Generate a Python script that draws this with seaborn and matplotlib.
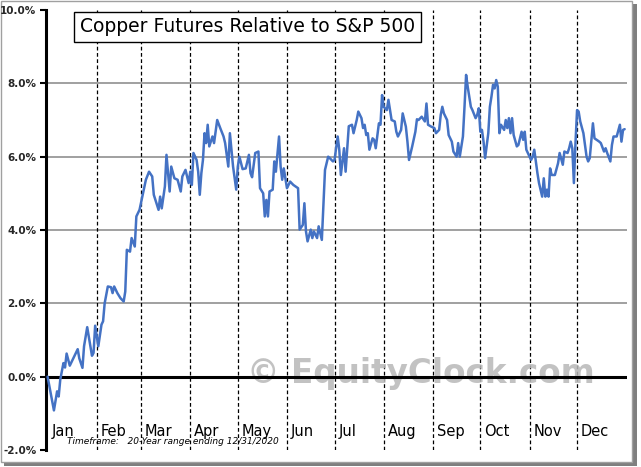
import pandas as pd
import seaborn as sns
import matplotlib.pyplot as plt
from matplotlib.patches import Rectangle
from matplotlib.ticker import FuncFormatter

# Seasonal path, day of year vs. percent relative to S&P 500
days = [1, 5, 7, 8, 9, 11, 12, 13, 15, 20, 21, 23, 24, 26, 29, 30, 31, 33, 35, 36,
        37, 39, 41, 42, 43, 45, 47, 49, 50, 51, 53, 54, 56, 57, 59, 61, 63, 65, 67, 68,
        69, 71, 72, 73, 75, 76, 78, 79, 81, 83, 85, 86, 88, 90, 91, 92, 93, 95, 96, 97,
        98, 99, 100, 101, 102, 103, 105, 106, 108, 110, 112, 113, 115, 116, 118, 120, 121, 122, 124, 126,
        128, 129, 130, 132, 134, 135, 137, 138, 139, 140, 141, 143, 144, 145, 147, 148, 149, 150, 152, 154,
        156, 159, 160, 162, 163, 164, 165, 167, 168, 169, 171, 172, 174, 176, 178, 179, 181, 182, 184, 185,
        186, 188, 189, 191, 193, 194, 196, 197, 199, 200, 201, 202, 203, 204, 206, 207, 208, 210, 211, 212,
        213, 215, 216, 218, 220, 221, 222, 224, 225, 227, 228, 229, 231, 233, 234, 235, 237, 239, 240, 241,
        243, 245, 246, 248, 249, 250, 251, 253, 254, 256, 257, 259, 260, 261, 263, 264, 265, 266, 268, 269,
        271, 272, 273, 274, 275, 276, 277, 279, 280, 281, 282, 283, 284, 285, 286, 287, 289, 290, 291, 292,
        293, 294, 295, 297, 298, 300, 301, 302, 303, 305, 306, 307, 308, 310, 311, 313, 314, 315, 316, 317,
        318, 319, 321, 323, 324, 326, 327, 329, 330, 331, 332, 333, 334, 335, 336, 337, 339, 341, 342, 343,
        345, 346, 349, 350, 352, 353, 354, 356, 357, 358, 360, 362, 363, 364, 365]
values = [0.00, -0.92, -0.40, -0.54, -0.08, 0.37, 0.25, 0.63, 0.30, 0.75, 0.50, 0.24, 0.83, 1.35, 0.57, 0.65, 1.39, 0.83, 1.42, 1.51,
          2.00, 2.46, 2.44, 2.28, 2.46, 2.28, 2.14, 2.05, 2.32, 3.46, 3.41, 3.78, 3.55, 4.37, 4.55, 4.96, 5.37, 5.59, 5.46, 4.96,
          4.82, 4.55, 4.91, 4.59, 5.19, 6.05, 5.05, 5.73, 5.41, 5.37, 5.05, 5.46, 5.64, 5.28, 5.59, 5.23, 6.10, 5.91, 5.59, 4.96,
          5.55, 5.91, 6.64, 6.37, 6.87, 6.28, 6.55, 6.37, 7.00, 6.77, 6.55, 6.37, 5.73, 6.64, 5.73, 5.10, 5.73, 6.00, 5.66, 5.68,
          6.05, 5.55, 5.44, 6.10, 6.14, 5.14, 5.00, 4.37, 4.82, 4.37, 5.05, 5.10, 5.87, 5.59, 6.55, 5.73, 5.37, 5.68, 5.14, 5.32,
          5.23, 5.14, 4.01, 4.14, 4.73, 3.96, 3.69, 4.01, 3.78, 3.96, 3.78, 4.10, 3.73, 5.64, 6.00, 5.96, 5.87, 5.91, 6.55, 6.19,
          5.50, 6.23, 5.59, 6.83, 6.87, 6.64, 7.00, 7.23, 7.05, 6.78, 6.87, 6.59, 6.64, 6.19, 6.50, 6.46, 6.23, 6.91, 6.87, 7.68,
          7.36, 7.27, 7.55, 7.00, 6.96, 6.68, 6.55, 6.73, 7.18, 6.82, 6.41, 5.91, 6.28, 6.68, 7.02, 7.00, 7.09, 6.96, 7.45, 6.87,
          6.82, 6.78, 6.64, 6.73, 7.14, 7.36, 7.18, 7.00, 6.59, 6.41, 6.14, 6.00, 6.37, 6.00, 6.55, 7.36, 8.23, 7.91, 7.36, 7.27,
          7.05, 7.14, 7.32, 6.68, 6.73, 6.41, 5.96, 6.64, 7.36, 7.64, 7.96, 7.86, 8.09, 7.91, 6.64, 6.87, 6.73, 7.00, 6.78, 7.05,
          6.64, 7.05, 6.59, 6.28, 6.32, 6.68, 6.46, 6.68, 6.19, 6.00, 5.91, 6.00, 6.19, 5.55, 5.28, 4.91, 5.41, 4.91, 5.10, 4.91,
          5.68, 5.50, 5.50, 5.82, 6.10, 5.78, 6.14, 6.10, 6.23, 6.41, 6.23, 5.28, 6.37, 7.27, 7.23, 6.96, 6.64, 6.00, 5.87, 5.96,
          6.91, 6.50, 6.41, 6.37, 6.14, 6.23, 6.10, 5.87, 6.32, 6.55, 6.55, 6.87, 6.41, 6.73, 6.75]

month_starts = [1, 32, 60, 91, 121, 152, 182, 213, 244, 274, 305, 335]
month_labels = ["Jan", "Feb", "Mar", "Apr", "May", "Jun",
                "Jul", "Aug", "Sep", "Oct", "Nov", "Dec"]
y_ticks = [-2, 0, 2, 4, 6, 8, 10]

df = pd.DataFrame({"day": days, "pct": values})

sns.set_theme(style="white")
plt.rcParams["font.family"] = ["DejaVu Sans"]

W, H = 641, 467
fig = plt.figure(figsize=(W / 100, H / 100), dpi=100)
fig.patch.set_facecolor("white")

# outer frame with drop shadow
fig.patches.append(Rectangle((4 / W, 1 - 466 / H), 633 / W, 462 / H, transform=fig.transFigure,
                             facecolor="#7f7f7f", edgecolor="none", zorder=0))
fig.patches.append(Rectangle((1 / W, 1 - 462 / H), 631 / W, 461 / H, transform=fig.transFigure,
                             facecolor="white", edgecolor="#a0a0a0", lw=1, zorder=1))

ax = fig.add_axes([46 / W, 1 - 450 / H, 581 / W, 440 / H])
ax.set_facecolor("none")
ax.set_zorder(2)

# grid and reference lines
for yv in [2, 4, 6, 8]:
    ax.axhline(yv, color="#868686", lw=1.1, zorder=1)
for ms in month_starts[1:]:
    ax.axvline(ms, color="black", lw=0.9, ls=(0, (3, 2)), zorder=1)
ax.axhline(0, color="black", lw=2.2, zorder=3)

# watermark
ax.text(127, 0.1, "\u00a9 EquityClock.com", fontsize=23.5, fontweight="bold",
        color="#b8b8b8", alpha=0.85, ha="left", va="center", zorder=2)

sns.lineplot(data=df, x="day", y="pct", ax=ax, color="#4472C4", lw=1.8, zorder=4)

ax.set_xlim(0, 366.5)
ax.set_ylim(-2, 10)
ax.set_xticks([])
ax.set_yticks(y_ticks)
ax.yaxis.set_major_formatter(FuncFormatter(lambda v, p: f"{v:.1f}%"))
ax.tick_params(axis="y", direction="out", length=4, width=1.5, color="black",
               labelsize=7.5, pad=3, left=True)
for lab in ax.get_yticklabels():
    lab.set_fontweight("bold")
ax.set_xlabel("")
ax.set_ylabel("")

for side in ["top", "right", "bottom"]:
    ax.spines[side].set_visible(False)
ax.spines["left"].set_color("black")
ax.spines["left"].set_linewidth(2.2)

# month labels inside the plot
for ms, lab in zip(month_starts, month_labels):
    ax.text(ms + 2.5, -1.5, lab, fontsize=10.5, ha="left", va="center", color="black", zorder=5)

# title box
fig.text(80 / W, 1 - 27 / H, "Copper Futures Relative to S&P 500", fontsize=13.5,
         ha="left", va="center", color="black", zorder=10,
         bbox=dict(boxstyle="square,pad=0.3", facecolor="white", edgecolor="black", lw=1))

fig.text(67 / W, 1 - 442 / H, "Timeframe:   20-Year range ending 12/31/2020",
         fontsize=6.5, style="italic", ha="left", va="center", color="black", zorder=10)

fig.savefig("out.png", dpi=100, facecolor="white")
